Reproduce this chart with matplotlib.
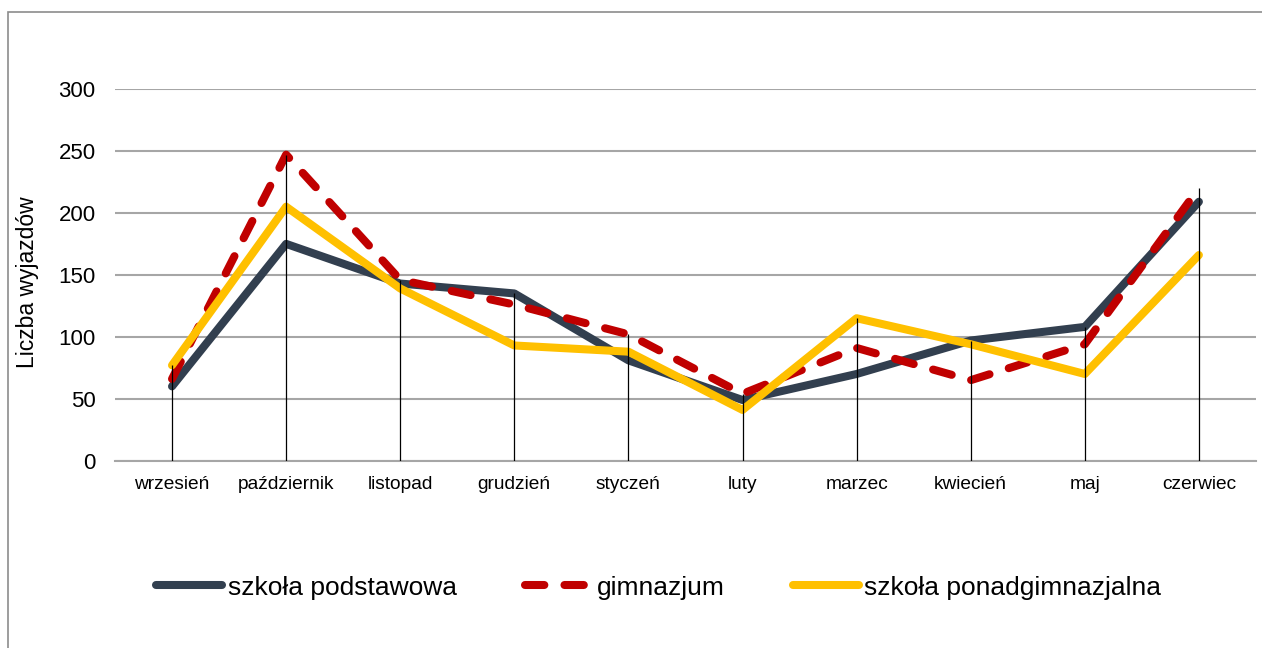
import numpy as np
import matplotlib.pyplot as plt
from matplotlib.patches import Rectangle

plt.rcParams['font.family'] = ['Liberation Sans', 'DejaVu Sans']

months = ['wrzesień', 'październik', 'listopad', 'grudzień', 'styczeń',
          'luty', 'marzec', 'kwiecień', 'maj', 'czerwiec']
podstawowa = [60, 175, 143, 135, 81, 49, 70, 97, 108, 209]
gimnazjum = [66, 247, 146, 126, 102, 54, 91, 65, 94, 220]
ponadgimn = [77, 205, 139, 93, 88, 41, 115, 94, 70, 166]

x = np.arange(len(months))

fig = plt.figure(figsize=(12.62, 6.48), dpi=100)
ax = fig.add_axes([0.0911, 0.289, 0.9041, 0.5737])

# outer frame of the chart area
fig.patches.append(Rectangle((8 / 1262, -0.1), 1.1, 1.1 - 12 / 648,
                             transform=fig.transFigure, fill=False,
                             edgecolor='#8c8c8c', linewidth=1.2))

ax.plot(x, podstawowa, color='#323f4f', linewidth=5.8, solid_capstyle='round',
        solid_joinstyle='round', label='szkoła podstawowa', zorder=3)
ax.plot(x, gimnazjum, color='#c00000', linewidth=5.8, dashes=(2.4, 2.5),
        dash_capstyle='round', dash_joinstyle='round', label='gimnazjum', zorder=4)
ax.plot(x, ponadgimn, color='#ffc000', linewidth=5.8, solid_capstyle='round',
        solid_joinstyle='round', label='szkoła ponadgimnazjalna', zorder=5)

# drop lines from the highest series value down to the axis
top = np.max([podstawowa, gimnazjum, ponadgimn], axis=0)
ax.vlines(x, 0, top, color='black', linewidth=0.9, zorder=6)

ax.set_xlim(-0.5, len(months) - 0.5)
ax.set_ylim(0, 300)
ax.set_yticks(range(0, 301, 50))
ax.yaxis.grid(True, color='#a6a6a6', linewidth=1.5)
ax.set_axisbelow(True)
for s in ['top', 'right', 'left']:
    ax.spines[s].set_visible(False)
ax.spines['bottom'].set_color('#a6a6a6')
ax.spines['bottom'].set_linewidth(1.5)
ax.tick_params(axis='both', length=0)
ax.tick_params(axis='y', labelsize=16, pad=14)
ax.set_xticks(x)
ax.set_xticklabels(months, fontsize=13.8)
ax.tick_params(axis='x', pad=11)
ax.set_ylabel('Liczba wyjazdów', fontsize=16.5)
ax.yaxis.set_label_coords(-0.067, 0.48)

fig.legend(loc='center', bbox_to_anchor=(0.522, 0.093), ncol=3, frameon=False,
           fontsize=19, handlelength=2.5, handletextpad=0.2, columnspacing=2.6)

fig.savefig('out.png', dpi=100)
